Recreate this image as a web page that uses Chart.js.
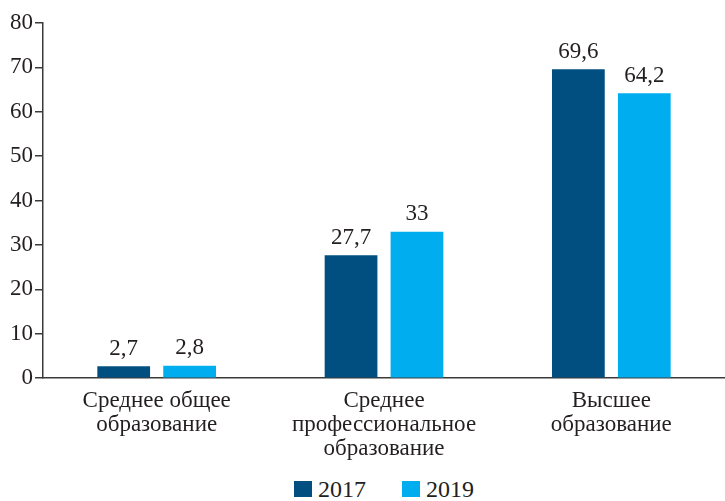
<!DOCTYPE html>
<html lang="ru">
<head>
    <meta charset="UTF-8">
    <title>Образование</title>
    <script src="https://cdn.jsdelivr.net/npm/chart.js"></script>
    <style>
        body {
            margin: 0;
            background: #ffffff;
        }
        .wrap {
            position: relative;
            width: 725px;
            height: 501px;
        }
        .chart-box {
            position: relative;
            width: 725px;
            height: 464px;
        }
        /* legend sits under the plot area, centred on it */
        .legend {
            position: absolute;
            left: 43px;
            right: 0;
            top: 477px;
            display: flex;
            justify-content: center;
            margin: 0;
            padding: 0;
            list-style: none;
            font-family: 'Liberation Serif', 'DejaVu Serif', serif;
            font-size: 24px;
            line-height: 24px;
            color: #231f20;
        }
        .legend li {
            display: flex;
            align-items: center;
            margin: 0 18px;
        }
        .legend .swatch {
            display: inline-block;
            width: 18px;
            height: 16px;
            margin-right: 6px;
        }
    </style>
</head>
<body>
    <div class="wrap">
        <div class="chart-box"><canvas id="eduChart"></canvas></div>
        <ul class="legend" id="legend"></ul>
    </div>

    <script>
        // Data
        const categories = [
            ['Среднее общее', 'образование'],
            ['Среднее', 'профессиональное', 'образование'],
            ['Высшее', 'образование']
        ];
        const values2017 = [2.7, 27.7, 69.6];
        const values2019 = [2.8, 33, 64.2];
        const yTicks = [0, 10, 20, 30, 40, 50, 60, 70, 80];

        const serif = "'Liberation Serif', 'DejaVu Serif', serif";
        const axisColor = '#3a3a3a';

        // Value labels above bars, decimal comma
        const valueLabels = {
            id: 'valueLabels',
            afterDatasetsDraw(chart) {
                const ctx = chart.ctx;
                ctx.save();
                ctx.font = '23px ' + serif;
                ctx.fillStyle = '#231f20';
                ctx.textAlign = 'center';
                ctx.textBaseline = 'bottom';
                chart.data.datasets.forEach((ds, i) => {
                    chart.getDatasetMeta(i).data.forEach((bar, j) => {
                        const txt = String(ds.data[j]).replace('.', ',');
                        ctx.fillText(txt, bar.x, bar.y - 6);
                    });
                });
                ctx.restore();
            }
        };

        // HTML legend built from the chart's own legend items
        const htmlLegend = {
            id: 'htmlLegend',
            afterUpdate(chart) {
                const ul = document.getElementById('legend');
                ul.innerHTML = '';
                const items = chart.options.plugins.legend.labels.generateLabels(chart);
                items.forEach(item => {
                    const li = document.createElement('li');
                    const box = document.createElement('span');
                    box.className = 'swatch';
                    box.style.background = item.fillStyle;
                    const text = document.createElement('span');
                    text.textContent = item.text;
                    li.appendChild(box);
                    li.appendChild(text);
                    ul.appendChild(li);
                });
            }
        };

        new Chart(document.getElementById('eduChart'), {
            type: 'bar',
            data: {
                labels: categories,
                datasets: [
                    {
                        label: '2017',
                        data: values2017,
                        backgroundColor: '#004f80',
                        barPercentage: 0.8,
                        categoryPercentage: 0.58
                    },
                    {
                        label: '2019',
                        data: values2019,
                        backgroundColor: '#00aeef',
                        barPercentage: 0.8,
                        categoryPercentage: 0.58
                    }
                ]
            },
            options: {
                responsive: true,
                maintainAspectRatio: false,
                animation: false,
                layout: {
                    padding: { top: 23, right: 0, left: 8, bottom: 0 }
                },
                scales: {
                    x: {
                        grid: { display: false },
                        border: { display: true, color: axisColor, width: 1.5 },
                        ticks: {
                            color: '#231f20',
                            font: { family: serif, size: 23, lineHeight: 1.04 },
                            padding: 3,
                            maxRotation: 0
                        }
                    },
                    y: {
                        min: 0,
                        max: 80,
                        afterBuildTicks: (axis) => {
                            axis.ticks = yTicks.map(v => ({ value: v }));
                        },
                        grid: {
                            drawOnChartArea: false,
                            drawTicks: true,
                            tickLength: 8,
                            color: axisColor,
                            lineWidth: 1.5
                        },
                        border: { display: true, color: axisColor, width: 1.5 },
                        ticks: {
                            color: '#231f20',
                            font: { family: serif, size: 23 },
                            padding: 2
                        }
                    }
                },
                plugins: {
                    legend: { display: false },
                    tooltip: { enabled: false }
                }
            },
            plugins: [valueLabels, htmlLegend]
        });
    </script>
</body>
</html>
